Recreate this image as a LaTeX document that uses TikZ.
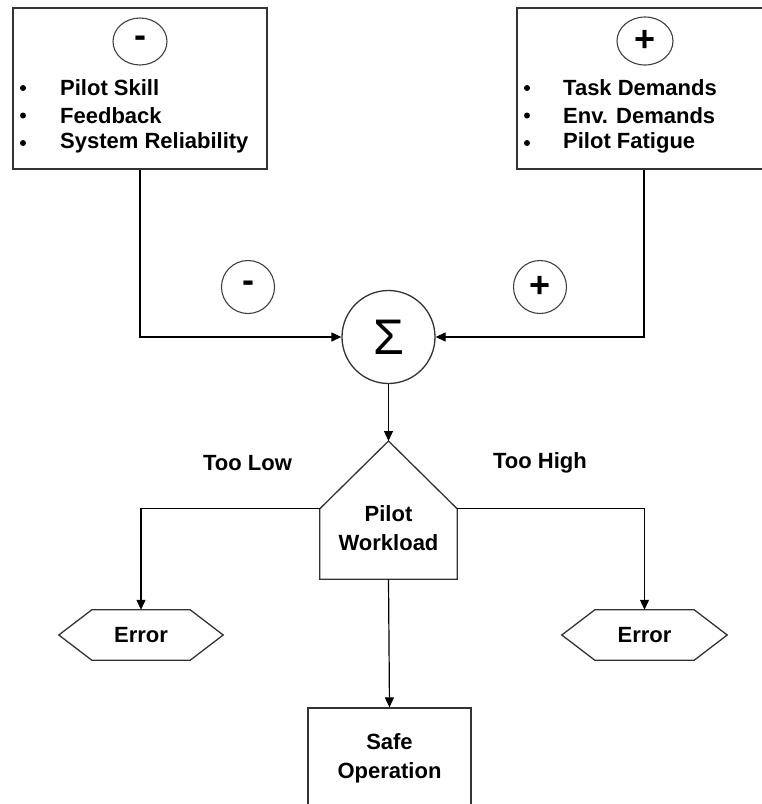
\documentclass[tikz,border=0pt]{standalone}
\usepackage{fontspec}
\setmainfont{Liberation Sans}
\newfontfamily\sigmafont{Liberation Sans}
\usetikzlibrary{arrows.meta,shapes.geometric}

\begin{document}
\begin{tikzpicture}[x=1pt,y=-1pt,
  box/.style={draw=black!80,line width=1.3pt,inner sep=0pt},
  outline/.style={draw=black!80,line width=1.3pt,line join=miter},
  sign/.style={draw=black!75,line width=1.1pt,inner sep=0pt,
    font=\fontsize{36}{36}\selectfont\bfseries},
  lbl/.style={inner sep=0pt,font=\fontsize{22}{29}\selectfont\bfseries},
  conn/.style={line width=1.2pt,-{Triangle[length=10pt,width=9pt]}},
  wire/.style={line width=1.2pt}]
\clip (0,0) rectangle (762,804);
%%% the two boxes of factors at the top
\node[box,minimum width=254pt,minimum height=161pt] (lbox) at (140,88.5) {};
\node[box,minimum width=254pt,minimum height=161pt] (rbox) at (644,88.5) {};
\node[sign,ellipse,minimum width=54pt,minimum height=47pt] (lsign) at (140,41.5) {-};
\node[sign,ellipse,minimum width=56pt,minimum height=48pt] (rsign) at (645,41) {+};
\foreach \t [count=\i from 0] in {Pilot Skill,Feedback,System Reliability} {
  \fill (23,88+27.5*\i) circle (3pt);
  \node[lbl,anchor=west] at (60,88+27.5*\i) {\t};
}
\foreach \t [count=\i from 0] in {Task Demands,Env. Demands,Pilot Fatigue} {
  \fill (527,88+27.5*\i) circle (3pt);
  \node[lbl,anchor=west] at (563,88+27.5*\i) {\t};
}
%
%%% summing point
\node[sign,circle,minimum size=53pt] (minus) at (248,287) {-};
\node[sign,circle,minimum size=53pt] (plus) at (540,287) {+};
\node[box,circle,minimum size=93pt,font=\sigmafont\fontsize{50}{50}\selectfont] (sum) at (388.5,337) {Σ};
\draw[conn] (lbox.south) |- (sum.west);
\draw[conn] (rbox.south) |- (sum.east);
%
%%% workload and outcomes
\node[inner sep=0pt,minimum width=137pt,minimum height=70pt] (load) at (388.5,544) {};
\coordinate (apex) at (388.5,441);
\draw[outline] (load.south west) -- (load.north west) -- (apex) -- (load.north east) -- (load.south east) -- cycle;
\node[lbl,align=center] (loadtext) at (388.5,528) {Pilot\\Workload};
\draw[conn] (sum.south) -- (apex);
\node[lbl] (low) at (247.5,463) {Too Low};
\node[lbl] (high) at (540,463) {Too High};
%
\node[lbl,minimum width=98pt,minimum height=50pt] (errL) at (141,635) {Error};
\node[lbl,minimum width=99pt,minimum height=50pt] (errR) at (644.5,635) {Error};
\foreach \n in {errL,errR}
  \draw[outline] (\n.north west) -- (\n.north east) -- ([xshift=33pt]\n.east)
    -- (\n.south east) -- (\n.south west) -- ([xshift=-33pt]\n.west) -- cycle;
\draw[conn] (load.north west) -| (errL.north);
\draw[conn] (load.north east) -| (errR.north);
%
\node[box,lbl,align=center,minimum width=163pt,minimum height=100pt] (safe) at (389.5,758) {Safe\\Operation};
\draw[conn] (load.south) -- (safe.north);
\end{tikzpicture}
\end{document}
